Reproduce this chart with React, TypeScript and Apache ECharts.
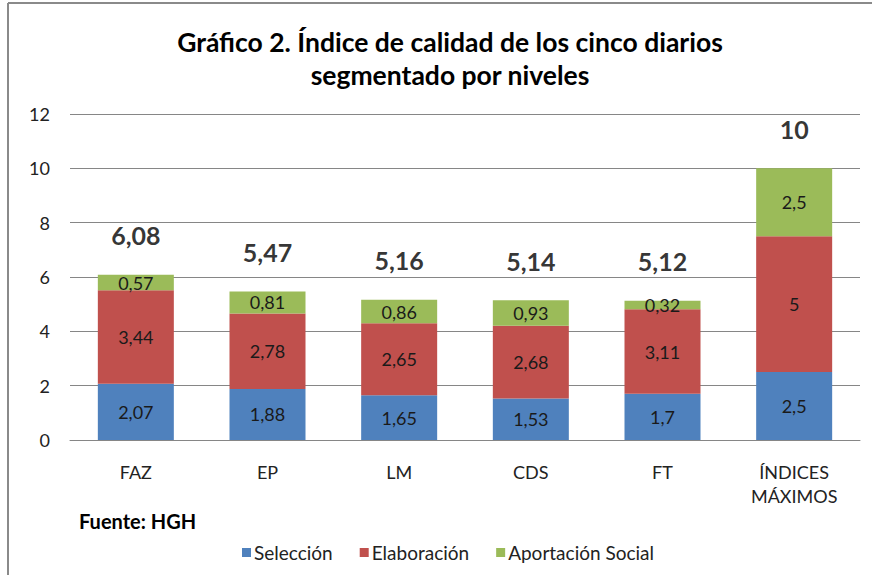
import React, { useEffect, useRef } from "react";
import * as echarts from "echarts";

const categories = ["FAZ", "EP", "LM", "CDS", "FT", "ÍNDICES\nMÁXIMOS"];
const seleccion = [2.07, 1.88, 1.65, 1.53, 1.7, 2.5];
const elaboracion = [3.44, 2.78, 2.65, 2.68, 3.11, 5];
const aportacion = [0.57, 0.81, 0.86, 0.93, 0.32, 2.5];
const totals = [6.08, 5.47, 5.16, 5.14, 5.12, 10];
const yTicks = { min: 0, max: 12, interval: 2 };

const FONT = "Lato, 'Open Sans', sans-serif";
const fmt = (v: number) => String(v).replace(".", ",");

export default function App() {
  const ref = useRef<HTMLDivElement>(null);
  useEffect(() => {
    if (!ref.current) return;
    const chart = echarts.init(ref.current, null, { renderer: "svg" });
    const segLabel = {
      show: true,
      position: "inside" as const,
      fontFamily: FONT,
      fontSize: 18,
      color: "#1a1a1a",
      formatter: (p: any) => fmt(p.value),
    };
    chart.setOption({
      animation: false,
      backgroundColor: "#fff",
      title: {
        text: "Gráfico 2. Índice de calidad de los cinco diarios\nsegmentado por niveles",
        left: 445,
        textAlign: "center",
        top: 20,
        textStyle: {
          fontFamily: FONT,
          fontSize: 26.5,
          fontWeight: "bold",
          color: "#000",
          lineHeight: 33,
        },
      },
      grid: { left: 70, right: 12, top: 114, bottom: 135, containLabel: false },
      legend: {
        left: 237,
        top: 538,
        itemWidth: 9,
        itemHeight: 9,
        itemGap: 27,
        icon: "rect",
        textStyle: { fontFamily: FONT, fontSize: 19, color: "#222", padding: [0, 0, 0, -2] },
        data: ["Selección", "Elaboración", "Aportación Social"],
      },
      xAxis: {
        type: "category",
        data: categories,
        axisLine: { lineStyle: { color: "#868686" } },
        axisTick: { show: false },
        axisLabel: {
          fontFamily: FONT,
          fontSize: 18,
          color: "#222",
          margin: 20,
          lineHeight: 24,
          interval: 0,
        },
      },
      yAxis: {
        type: "value",
        min: yTicks.min,
        max: yTicks.max,
        interval: yTicks.interval,
        axisLine: { show: false },
        axisTick: { show: false },
        splitLine: { lineStyle: { color: "#868686", width: 1 } },
        axisLabel: { fontFamily: FONT, fontSize: 18, color: "#222", margin: 20 },
      },
      graphic: [
        { type: "line", shape: { x1: 8, y1: 3, x2: 872, y2: 3 }, style: { stroke: "#8a8a8a", lineWidth: 2 } },
        { type: "line", shape: { x1: 8, y1: 3, x2: 8, y2: 575 }, style: { stroke: "#8a8a8a", lineWidth: 2 } },
        {
          type: "text",
          left: 79,
          top: 511,
          style: { text: "Fuente: HGH", fontFamily: FONT, fontSize: 20, fontWeight: "bold", fill: "#000" },
        },
      ],
      series: [
        {
          name: "Selección",
          type: "bar",
          stack: "t",
          barWidth: 76,
          data: seleccion,
          itemStyle: { color: "#4F81BD" },
          label: segLabel,
        },
        {
          name: "Elaboración",
          type: "bar",
          stack: "t",
          data: elaboracion,
          itemStyle: { color: "#C0504D" },
          label: segLabel,
        },
        {
          name: "Aportación Social",
          type: "bar",
          stack: "t",
          data: aportacion,
          itemStyle: { color: "#9BBB59" },
          label: segLabel,
        },
        {
          name: "Total",
          type: "scatter",
          data: totals,
          symbol: "circle",
          symbolSize: 2,
          itemStyle: { color: "rgba(0,0,0,0)" },
          silent: true,
          z: 10,
          label: {
            show: true,
            position: "top",
            distance: 26,
            fontFamily: FONT,
            fontSize: 25,
            fontWeight: "bold",
            color: "#000",
            formatter: (p: any) => fmt(p.value),
          },
        },
      ],
    });
    return () => chart.dispose();
  }, []);
  return (
    <div
      ref={ref}
      style={{ position: "absolute", left: 0, top: 0, width: 872, height: 575 }}
    />
  );
}
